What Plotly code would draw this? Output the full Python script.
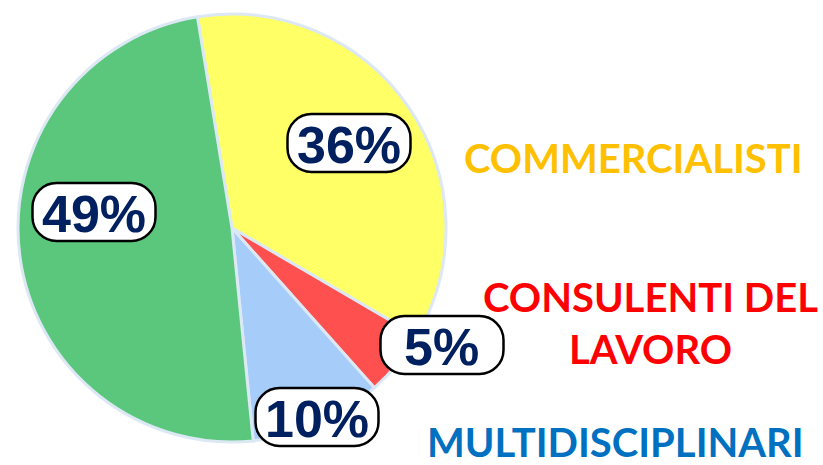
import plotly.graph_objects as go

# data
categories = ["COMMERCIALISTI", "CONSULENTI DEL<br>LAVORO", "MULTIDISCIPLINARI", "ALTRI"]
values = [36, 5, 10, 49]
slice_colors = ["#FFFF66", "#FF5050", "#A6CDFA", "#5AC77C"]
legend_colors = ["#FFC000", "#FF0000", "#0070C0", None]

W, H = 823, 465

# label box centres (pixels) and legend text centres (pixels)
label_px = [(349, 143), (442, 345), (317, 417), (94, 212)]
legend_px = [(633, 158), (650, 323), (615, 442)]


def px2paper(x, y):
    return x / W, 1 - y / H


def rounded_box(cx, cy, w, h, r):
    k = 0.5523 * r
    x0, x1 = cx - w / 2, cx + w / 2
    y0, y1 = cy - h / 2, cy + h / 2
    pts = [
        ("M", [(x0 + r, y0)]),
        ("L", [(x1 - r, y0)]),
        ("C", [(x1 - r + k, y0), (x1, y0 + r - k), (x1, y0 + r)]),
        ("L", [(x1, y1 - r)]),
        ("C", [(x1, y1 - r + k), (x1 - r + k, y1), (x1 - r, y1)]),
        ("L", [(x0 + r, y1)]),
        ("C", [(x0 + r - k, y1), (x0, y1 - r + k), (x0, y1 - r)]),
        ("L", [(x0, y0 + r)]),
        ("C", [(x0, y0 + r - k), (x0 + r - k, y0), (x0 + r, y0)]),
    ]
    s = ""
    for cmd, ps in pts:
        s += cmd + " " + " ".join("%.5f,%.5f" % px2paper(x, y) for x, y in ps) + " "
    return s + "Z"


fig = go.Figure()
fig.add_trace(go.Pie(
    labels=categories,
    values=values,
    sort=False,
    direction="clockwise",
    rotation=-9.3,
    marker=dict(colors=slice_colors, line=dict(color="#DCE8F4", width=3)),
    textinfo="none",
    hoverinfo="label+percent",
    showlegend=False,
    domain=dict(x=[18 / W, 446 / W], y=[1 - 442 / H, 1 - 14 / H]),
))

total = sum(values)
for (cx, cy), v in zip(label_px, values):
    fig.add_shape(type="path", path=rounded_box(cx, cy, 123, 58, 24),
                  xref="paper", yref="paper", fillcolor="white",
                  line=dict(color="black", width=2.5), layer="above")
    x, y = px2paper(cx, cy)
    fig.add_annotation(x=x, y=y, xref="paper", yref="paper", showarrow=False,
                       xanchor="center", yanchor="middle",
                       text="%d%%" % round(100 * v / total), yshift=-2,
                       font=dict(family="Liberation Sans Narrow, Arial Narrow, Liberation Sans",
                                 size=52, color="#002060", weight="bold"))

for (cx, cy), name, col in zip(legend_px, categories, legend_colors):
    x, y = px2paper(cx, cy)
    fig.add_annotation(x=x, y=y, xref="paper", yref="paper", showarrow=False,
                       xanchor="center", yanchor="middle",
                       text=name, align="center",
                       font=dict(family="Lato", size=40, color=col, weight="bold"))

fig.update_layout(width=W, height=H, margin=dict(l=0, r=0, t=0, b=0),
                  paper_bgcolor="white", plot_bgcolor="white")
fig.write_html("out.html", config={"displayModeBar": False},
               post_script="document.body.style.margin='0';")
